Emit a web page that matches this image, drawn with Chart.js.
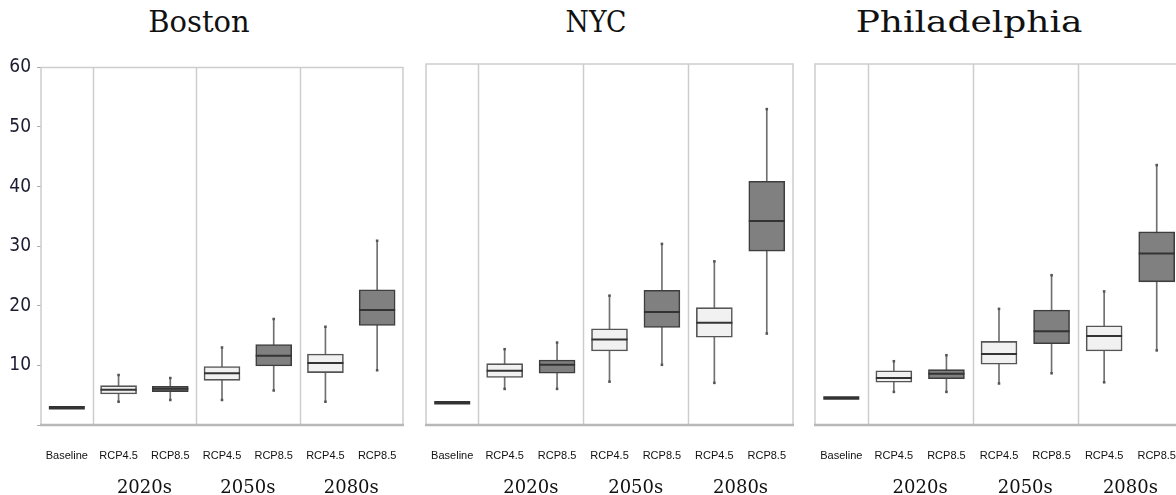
<!DOCTYPE html>
<html>
<head>
<meta charset="utf-8">
<script src="https://cdn.jsdelivr.net/npm/chart.js@4.4.1/dist/chart.umd.min.js"></script>
<style>
  html, body { margin: 0; padding: 0; background: #fff; width: 1176px; height: 495px; overflow: hidden; position: relative; }
  canvas { position: absolute; top: 50px; }
  .titulo { position: absolute; top: 8px; line-height: 1; font-family: 'DejaVu Serif', serif; font-size: 29px; color: #111; transform: translateX(-50%); white-space: nowrap; }
</style>
</head>
<body>
<div class="titulo" style="left:199px">Boston</div>
<div class="titulo" style="left:596px; transform: translateX(-50%) scaleX(0.92)">NYC</div>
<div class="titulo" style="left:969px; transform: translateX(-50%) scaleX(1.24)">Philadelphia</div>

<canvas id="graficoBoston" width="406" height="445" style="left:0px"></canvas>
<canvas id="graficoNYC" width="371" height="445" style="left:424px"></canvas>
<canvas id="graficoPhila" width="370" height="445" style="left:813px"></canvas>

<script>
const categorias = ['Baseline', 'RCP4.5', 'RCP8.5', 'RCP4.5', 'RCP8.5', 'RCP4.5', 'RCP8.5'];
const decadas = ['2020s', '2050s', '2080s'];
const ticksY = [10, 20, 30, 40, 50, 60];

// Boston
const bostonMin     = [null, 3.9, 4.2, 4.2, 5.8, 3.9, 9.2];
const bostonQ1      = [null, 5.2, 5.6, 7.5, 9.9, 8.8, 16.7];
const bostonMediana = [2.9, 5.9, 6.1, 8.7, 11.6, 10.4, 19.3];
const bostonQ3      = [null, 6.6, 6.5, 9.8, 13.5, 11.9, 22.7];
const bostonMax     = [null, 8.4, 7.9, 13.0, 17.8, 16.5, 30.9];

// NYC
const nycMin     = [null, 6.0, 6.0, 7.2, 10.0, 7.0, 15.2];
const nycQ1      = [null, 7.9, 8.6, 12.3, 16.2, 14.6, 28.9];
const nycMediana = [3.7, 9.0, 10.0, 14.2, 18.8, 17.0, 33.9];
const nycQ3      = [null, 10.2, 10.8, 16.0, 22.4, 19.5, 40.5];
const nycMax     = [null, 12.6, 13.7, 21.5, 30.1, 27.2, 52.5];

// Philadelphia
const philaMin     = [null, 5.5, 5.5, 6.9, 8.6, 7.1, 12.4];
const philaQ1      = [null, 7.1, 7.7, 10.1, 13.5, 12.3, 23.8];
const philaMediana = [4.5, 7.8, 8.5, 11.8, 15.6, 14.8, 28.5];
const philaQ3      = [null, 9.0, 9.2, 13.9, 19.1, 16.5, 32.1];
const philaMax     = [null, 10.6, 11.6, 19.3, 24.9, 22.2, 43.2];

const colorCaja = ['#ffffff', '#f1f1f1', '#808080', '#f1f1f1', '#808080', '#f1f1f1', '#808080'];
const bordeCaja = ['#444', '#555', '#3e3e3e', '#555', '#3e3e3e', '#555', '#3e3e3e'];

// marco, separadores y etiquetas de decada
const marcoPlugin = {
  id: 'marco',
  beforeDatasetsDraw(chart) {
    const { ctx, chartArea: a, scales: { x } } = chart;
    ctx.save();
    ctx.strokeStyle = '#cdcdcd';
    ctx.lineWidth = 1.5;
    [0, 2, 4].forEach(i => {
      const px = Math.round((x.getPixelForTick(i) + x.getPixelForTick(i + 1)) / 2) + 0.5;
      ctx.beginPath();
      ctx.moveTo(px, a.top);
      ctx.lineTo(px, a.bottom);
      ctx.stroke();
    });
    ctx.beginPath();
    ctx.moveTo(a.left, a.bottom);
    ctx.lineTo(a.left, a.top);
    ctx.lineTo(a.right, a.top);
    ctx.lineTo(a.right, a.bottom);
    ctx.stroke();
    ctx.strokeStyle = '#b8b8b8';
    ctx.lineWidth = 2.5;
    ctx.beginPath();
    ctx.moveTo(a.left - 1, a.bottom);
    ctx.lineTo(a.right + 1, a.bottom);
    ctx.stroke();
    ctx.restore();
  },
  afterDraw(chart) {
    const { ctx, scales: { x } } = chart;
    ctx.save();
    ctx.font = '18px "DejaVu Serif", serif';
    ctx.fillStyle = '#111';
    ctx.textAlign = 'center';
    ctx.textBaseline = 'alphabetic';
    decadas.forEach((d, i) => {
      const px = (x.getPixelForTick(1 + i * 2) + x.getPixelForTick(2 + i * 2)) / 2;
      ctx.fillText(d, px, 443);
    });
    ctx.restore();
  }
};

function crearGrafico(id, min, q1, mediana, q3, max, conEjeY, padIzq, padDer) {
  const canvas = document.getElementById(id);
  const cajas = q1.map((v, i) => v === null ? null : [v, q3[i]]);
  const bigotes = min.map((v, i) => v === null ? null : [v, max[i]]);

  return new Chart(canvas, {
    type: 'bar',
    data: {
      labels: categorias,
      datasets: [
        {
          type: 'line',
          data: mediana,
          showLine: false,
          pointStyle: 'line',
          pointRadius: 18,
          pointHoverRadius: 18,
          pointBorderWidth: mediana.map((v, i) => i === 0 ? 3.5 : 2),
          pointBorderColor: '#333',
          order: 0
        },
        {
          data: cajas,
          backgroundColor: colorCaja,
          borderColor: bordeCaja,
          borderWidth: 1.6,
          borderSkipped: false,
          barThickness: 36,
          grouped: false,
          order: 1
        },
        {
          type: 'line',
          data: max,
          showLine: false,
          pointStyle: 'rect',
          pointRadius: 1.8,
          pointBackgroundColor: '#555',
          pointBorderWidth: 0,
          order: 2
        },
        {
          type: 'line',
          data: min,
          showLine: false,
          pointStyle: 'rect',
          pointRadius: 1.8,
          pointBackgroundColor: '#555',
          pointBorderWidth: 0,
          order: 2
        },
        {
          data: bigotes,
          backgroundColor: '#707070',
          barThickness: 1,
          grouped: false,
          order: 3
        }
      ]
    },
    options: {
      responsive: false,
      animation: false,
      layout: { autoPadding: false, padding: { top: 14, left: padIzq, right: padDer, bottom: 0 } },
      plugins: { legend: { display: false }, tooltip: { enabled: false } },
      scales: {
        x: {
          offset: true,
          // tickLength solo se usa para bajar las etiquetas
          grid: { display: false, drawTicks: true, tickLength: 24 },
          border: { display: false },
          ticks: {
            autoSkip: false,
            maxRotation: 0,
            padding: 0,
            color: '#111',
            font: { family: "'Liberation Sans', Arial, sans-serif", size: 11 }
          },
          afterFit(scale) { scale.height = 70; }
        },
        y: {
          display: conEjeY,
          min: 0,
          max: 60,
          grid: { drawOnChartArea: false, drawTicks: true, tickLength: 4, color: '#aaa' },
          border: { display: false },
          ticks: {
            stepSize: 10,
            padding: 6,
            color: '#1c1c30',
            font: { family: "'Liberation Sans Narrow', 'DejaVu Sans Condensed', sans-serif", size: 19 },
            callback: v => ticksY.includes(v) ? String(v) : ''
          },
          afterFit(scale) { scale.width = conEjeY ? 41 : 0; }
        }
      }
    },
    plugins: [marcoPlugin]
  });
}

crearGrafico('graficoBoston', bostonMin, bostonQ1, bostonMediana, bostonQ3, bostonMax, true, 0, 3);
crearGrafico('graficoNYC', nycMin, nycQ1, nycMediana, nycQ3, nycMax, false, 2, 2);
crearGrafico('graficoPhila', philaMin, philaQ1, philaMediana, philaQ3, philaMax, false, 2, 0);
</script>
</body>
</html>
